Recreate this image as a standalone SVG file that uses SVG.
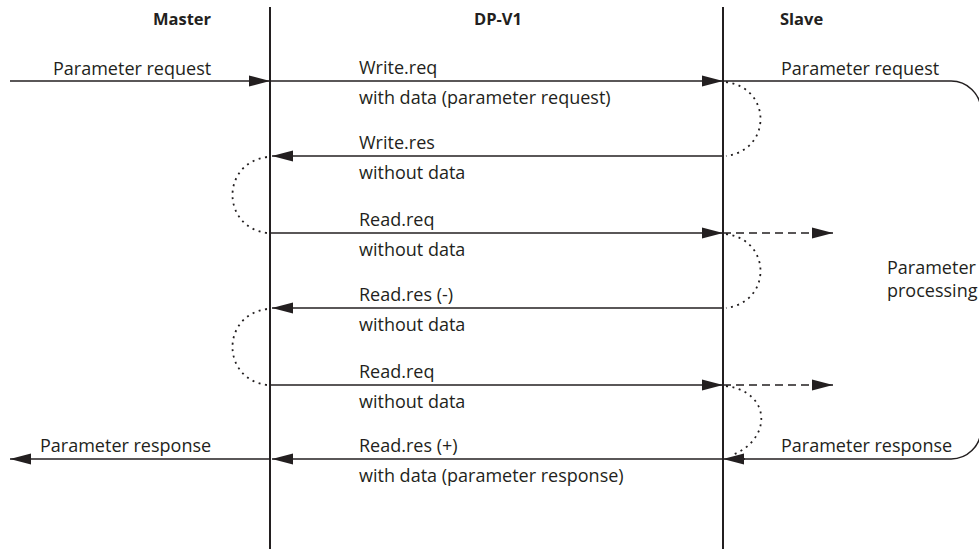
<svg xmlns="http://www.w3.org/2000/svg" width="979" height="550" viewBox="0 0 979 550">
<style>
text{font-family:"Open Sans","Liberation Sans",sans-serif;font-size:18px;fill:#231f20}
.h{font-weight:bold;font-size:16.5px}
.life{stroke:#231f20;stroke-width:2;fill:none}
.msg{stroke:#231f20;stroke-width:1.5;fill:none}
.dash{stroke:#231f20;stroke-width:1.5;fill:none;stroke-dasharray:8 5}
.dot{stroke:#231f20;stroke-width:1.8;fill:none;stroke-dasharray:2 4.5}
</style>
<defs>
<marker id="ah" markerUnits="userSpaceOnUse" markerWidth="22" markerHeight="12" refX="21" refY="6" orient="auto">
<path d="M0,0.5 L21,6 L0,11.5 Z" fill="#231f20"/>
</marker>
</defs>
<rect width="979" height="550" fill="#fff"/>
<g id="master">
<line class="life" x1="270" y1="7" x2="270" y2="549"/>
<text class="h" x="182" y="25" text-anchor="middle">Master</text>
</g>
<g id="dpv1">
<text class="h" x="498" y="25" text-anchor="middle">DP-V1</text>
</g>
<g id="slave">
<line class="life" x1="723" y1="7" x2="723" y2="549"/>
<text class="h" x="780" y="25">Slave</text>
</g>
<g id="processing">
<text x="887" y="274">Parameter</text>
<text x="887" y="297">processing</text>
</g>
<g id="connectors">
<line class="msg" x1="10" y1="81" x2="270" y2="81" marker-end="url(#ah)"/>
<line class="msg" x1="270" y1="81" x2="723" y2="81" marker-end="url(#ah)"/>
<path class="msg" d="M723,81 H950 A30,30 0 0 1 981,111 V429 A30,30 0 0 1 950,459 H740"/>
<line class="msg" x1="723" y1="156" x2="272" y2="156" marker-end="url(#ah)"/>
<line class="msg" x1="270" y1="233" x2="723" y2="233" marker-end="url(#ah)"/>
<line class="dash" x1="723" y1="233" x2="833" y2="233" marker-end="url(#ah)"/>
<line class="msg" x1="723" y1="308" x2="272" y2="308" marker-end="url(#ah)"/>
<line class="msg" x1="270" y1="385" x2="723" y2="385" marker-end="url(#ah)"/>
<line class="dash" x1="723" y1="385" x2="833" y2="385" marker-end="url(#ah)"/>
<line class="msg" x1="745" y1="459" x2="723" y2="459" marker-end="url(#ah)"/>
<line class="msg" x1="723" y1="459" x2="272" y2="459" marker-end="url(#ah)"/>
<line class="msg" x1="270" y1="459" x2="10" y2="459" marker-end="url(#ah)"/>
<path class="dot" d="M726,82 C772,88 772,150 726,156"/>
<path class="dot" d="M267,157 C221,163 221,227 267,233"/>
<path class="dot" d="M726,234 C772,240 772,302 726,308"/>
<path class="dot" d="M267,309 C221,315 221,379 267,385"/>
<path class="dot" d="M726,386 C772,392 772,440 732,455"/>
<text x="53" y="75">Parameter request</text>
<text x="359" y="74">Write.req</text>
<text x="359" y="104">with data (parameter request)</text>
<text x="781" y="75">Parameter request</text>
<text x="359" y="149">Write.res</text>
<text x="359" y="179">without data</text>
<text x="359" y="226">Read.req</text>
<text x="359" y="256">without data</text>
<text x="359" y="301">Read.res (-)</text>
<text x="359" y="331">without data</text>
<text x="359" y="378">Read.req</text>
<text x="359" y="408">without data</text>
<text x="40" y="452">Parameter response</text>
<text x="359" y="452">Read.res (+)</text>
<text x="359" y="482">with data (parameter response)</text>
<text x="781" y="452">Parameter response</text>
</g>
</svg>
